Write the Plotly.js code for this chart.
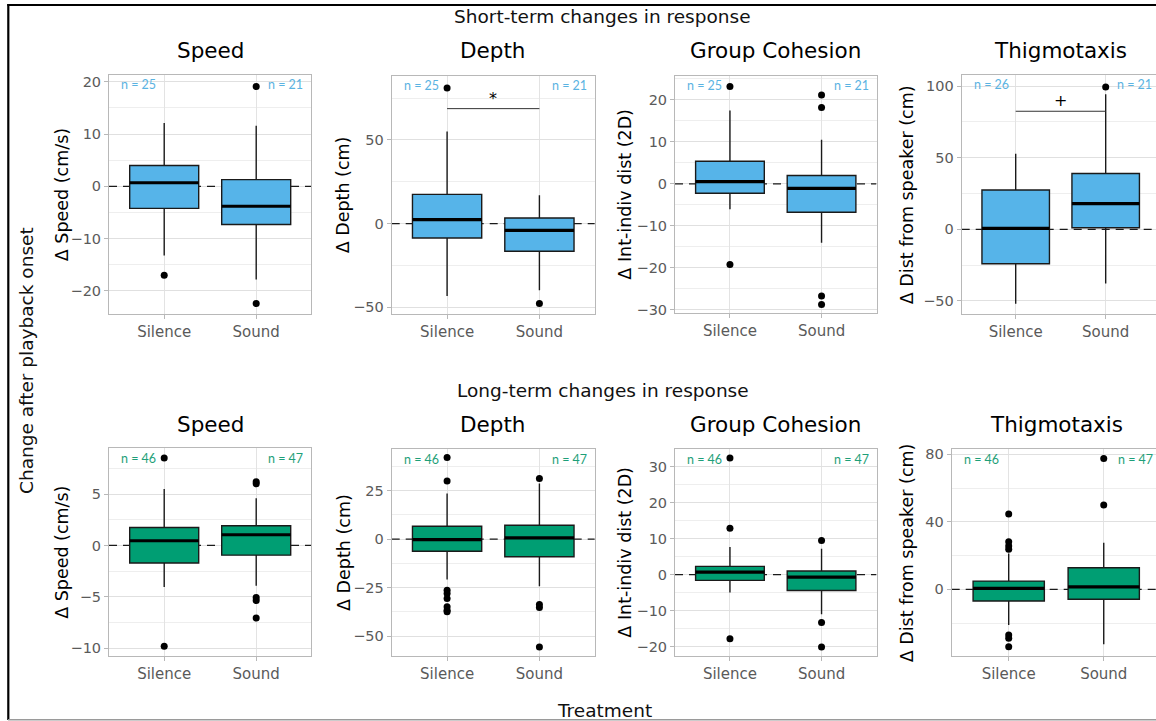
<!DOCTYPE html>
<html><head><meta charset="utf-8">
<script src="https://cdn.plot.ly/plotly-3.0.1.min.js"></script>
<style>html,body{margin:0;padding:0;background:#fff}#chart{width:1156px;height:721px}</style>
</head><body><div id="chart"></div>
<script>
// ---------- DATA ----------
const categories = ["Silence", "Sound"];
const panelTitles = ["Speed", "Depth", "Group Cohesion", "Thigmotaxis"];
const yTitles = ["Δ Speed (cm/s)", "Δ Depth (cm)", "Δ Int-indiv dist (2D)", "Δ Dist from speaker (cm)"];
const rowTitles = ["Short-term changes in response", "Long-term changes in response"];
const xTitle = "Treatment";
const yOverall = "Change after playback onset";

// Short-term: [Silence, Sound] per panel
const shortQ1     = [[-4.2, -7.3], [-8.6, -16.5], [-2.2, -6.75], [-24.0, 1.1]];
const shortMedian = [[0.7, -3.8], [2.4, -4.0], [0.55, -1.05], [0.7, 17.9]];
const shortQ3     = [[4.0, 1.3], [17.5, 3.4], [5.4, 2.0], [27.4, 39.0]];
const shortLower  = [[-13.2, -17.8], [-43.2, -39.8], [-6.0, -14.0], [-51.9, -37.9]];
const shortUpper  = [[12.1, 11.6], [55.0, 16.9], [17.5, 10.5], [52.7, 94.3]];
const shortOutSilence = [[-17.0], [81.0], [23.2, -19.2], []];
const shortOutSound   = [[19.1, -22.4], [-47.8], [21.2, 18.2, -26.7, -28.7], [99.3]];
const shortN = [[25, 21], [25, 21], [25, 21], [26, 21]];
const shortSig = [null, {label: "*", y: 68.7}, null, {label: "+", y: 82.4}];

// Long-term
const longQ1     = [[-1.71, -0.94], [-6.2, -9.1], [-1.6, -4.4], [-6.9, -5.9]];
const longMedian = [[0.46, 1.04], [-0.2, 0.7], [0.7, -0.67], [0.6, 1.5]];
const longQ3     = [[1.75, 1.92], [6.7, 7.2], [2.3, 1.0], [4.9, 12.8]];
const longLower  = [[-4.05, -3.92], [-20.8, -24.3], [-5.0, -11.0], [-21.2, -32.6]];
const longUpper  = [[5.5, 4.6], [23.6, 28.7], [7.7, 7.2], [21.3, 27.6]];
const longOutSilence = [[8.5, -9.8], [42.2, 30.0, -26.3, -28.0, -30.6, -34.9, -36.7, -37.5], [32.4, 12.9, -17.8], [44.6, 28.2, 25.7, 23.7, -27.1, -29.0, -34.0]];
const longOutSound   = [[6.2, 6.0, -5.06, -5.35, -7.06], [31.3, -33.7, -35.3, -55.6], [9.5, -13.3, -20.1], [77.6, 50.0]];
const longN = [[46, 47], [46, 47], [46, 47], [46, 47]];
const longSig = [null, null, null, null];

// ---------- LAYOUT GEOMETRY (pixels) ----------
const W = 1156, H = 721;
const geom = [
  {x0:109,   x1:311.4, y0:75,    y1:314,   yr:[-24.4, 21.3],  dt:10, mn:5,    ytx:61.7,  xr:[-0.6,1.6]},
  {x0:391.7, x1:594.8, y0:76,    y1:314,   yr:[-54.0, 88.2],  dt:50, mn:25,   ytx:343.3, xr:[-0.6,1.6]},
  {x0:675,   x1:876.5, y0:76,    y1:313.3, yr:[-30.8, 25.7],  dt:10, mn:5,    ytx:625,   xr:[-0.6,1.6]},
  {x0:961.7, x1:1156,  y0:75,    y1:314,   yr:[-59.1, 107.7], dt:50, mn:25,   ytx:906.7, xr:[-0.6,1.559], full:1159.7},
  {x0:109,   x1:311.4, y0:448.3, y1:656,   yr:[-10.75, 9.45], dt:5,  mn:2.5,  ytx:61.7,  xr:[-0.6,1.6]},
  {x0:391.7, x1:594.8, y0:449.3, y1:656,   yr:[-60.3, 46.4],  dt:25, mn:12.5, ytx:343.3, xr:[-0.6,1.6]},
  {x0:675,   x1:876.5, y0:449.3, y1:656,   yr:[-22.6, 34.8],  dt:10, mn:5,    ytx:625,   xr:[-0.6,1.6]},
  {x0:951.7, x1:1156,  y0:449.3, y1:656,   yr:[-39.5, 83.0],  dt:40, mn:20,   ytx:906.7, xr:[-0.6,1.55], full:1160.7}
];
const rowTitleY = [17, 390];
const panelTitleY = [51, 425];

const rows = [
  {q1:shortQ1, med:shortMedian, q3:shortQ3, lo:shortLower, hi:shortUpper, oS:shortOutSilence, oD:shortOutSound, n:shortN, sig:shortSig, fill:"#56B4E9", ncol:"#5AB3E2"},
  {q1:longQ1,  med:longMedian,  q3:longQ3,  lo:longLower,  hi:longUpper,  oS:longOutSilence,  oD:longOutSound,  n:longN,  sig:longSig,  fill:"#009E73", ncol:"#1E9F79"}
];

const FONT = "DejaVu Sans, Liberation Sans, Arial, sans-serif";
const px = v => v / W;
const py = v => 1 - v / H;

const traces = [];
const layout = {
  width: W, height: H,
  margin: {l:0, r:0, t:0, b:0},
  paper_bgcolor: "#fff", plot_bgcolor: "#fff",
  showlegend: false, hovermode: false,
  font: {family: FONT, color: "#000"},
  annotations: [], shapes: []
};

rows.forEach((row, r) => {
  for (let p = 0; p < 4; p++) {
    const k = r * 4 + p;
    const g = geom[k];
    const idx = k + 1;
    const suf = idx === 1 ? "" : String(idx);
    const xa = "x" + suf, ya = "y" + suf;
    const xKey = "xaxis" + suf, yKey = "yaxis" + suf;
    const spacing = ((g.full || g.x1) - g.x0) / 2.2;

    layout[xKey] = {
      domain: [px(g.x0), px(g.x1)], anchor: ya,
      type: "category", categoryorder: "array", categoryarray: categories,
      range: g.xr, fixedrange: true,
      showgrid: true, gridcolor: "#e3e3e3", gridwidth: 1,
      showline: true, mirror: true, linecolor: "#b8b8b8", linewidth: 1,
      ticks: "outside", ticklen: 4, tickcolor: "#b8b8b8",
      tickfont: {family: FONT, size: 15, color: "#5a5a5a"},
      zeroline: false
    };
    layout[yKey] = {
      domain: [py(g.y1), py(g.y0)], anchor: xa,
      range: g.yr, fixedrange: true,
      dtick: g.dt, tick0: 0,
      showgrid: true, gridcolor: "#e0e0e0", gridwidth: 1,
      minor: {dtick: g.mn, tick0: 0, showgrid: true, gridcolor: "#eeeeee", gridwidth: 1, ticks: ""},
      showline: true, mirror: true, linecolor: "#b8b8b8", linewidth: 1,
      ticks: "outside", ticklen: 4, tickcolor: "#b8b8b8",
      tickfont: {family: FONT, size: 14.5, color: "#5a5a5a"},
      zeroline: false
    };

    // zero dashed line: between gridlines and traces
    layout.shapes.push({
      type: "line", xref: xa, x0: g.xr[0], x1: g.xr[1], yref: ya, y0: 0, y1: 0,
      line: {color: "#1a1a1a", width: 1.3, dash: "8px,6px"}, layer: "between"
    });

    // box
    traces.push({
      type: "box", xaxis: xa, yaxis: ya,
      x: categories,
      q1: row.q1[p], median: row.med[p], q3: row.q3[p],
      lowerfence: row.lo[p], upperfence: row.hi[p],
      boxpoints: false, width: 0.75, whiskerwidth: 0,
      fillcolor: row.fill, line: {color: "#1a1a1a", width: 1.4},
      hoverinfo: "skip"
    });
    // thick median (line-ew marker spans 1.4*size px)
    traces.push({
      type: "scatter", mode: "markers", xaxis: xa, yaxis: ya,
      x: categories, y: row.med[p],
      marker: {symbol: "line-ew", size: 0.75 * spacing / 1.4, line: {color: "#000", width: 3.2}},
      hoverinfo: "skip", cliponaxis: false
    });
    // outliers
    const ox = [], oy = [];
    row.oS[p].forEach(v => { ox.push(categories[0]); oy.push(v); });
    row.oD[p].forEach(v => { ox.push(categories[1]); oy.push(v); });
    traces.push({
      type: "scatter", mode: "markers", xaxis: xa, yaxis: ya,
      x: ox, y: oy,
      marker: {symbol: "circle", size: 7, color: "#000"},
      hoverinfo: "skip", cliponaxis: false
    });
    // significance bracket
    const s = row.sig[p];
    if (s) {
      traces.push({
        type: "scatter", mode: "lines", xaxis: xa, yaxis: ya,
        x: categories, y: [s.y, s.y],
        line: {color: "#333", width: 1}, hoverinfo: "skip"
      });
      layout.annotations.push({
        xref: xa, yref: ya, x: 0.5, y: s.y, yanchor: "bottom", xanchor: "center",
        text: s.label, showarrow: false, font: {family: FONT, size: 16, color: "#000"}, yshift: -1
      });
    }

    // n labels
    const fullRight = g.full || g.x1;
    layout.annotations.push({
      xref: "paper", yref: "paper", x: px(g.x0 + 10), y: py(g.y0 + 10),
      xanchor: "left", yanchor: "middle", showarrow: false,
      text: "n = " + row.n[p][0], font: {family: "Lato, Open Sans, sans-serif", size: 12.5, color: row.ncol}
    });
    layout.annotations.push({
      xref: "paper", yref: "paper", x: px(Math.min(fullRight - 6, 1155)), y: py(g.y0 + 10),
      xanchor: "right", yanchor: "middle", showarrow: false,
      text: "n = " + row.n[p][1], font: {family: "Lato, Open Sans, sans-serif", size: 12.5, color: row.ncol}
    });

    // panel title
    layout.annotations.push({
      xref: "paper", yref: "paper", x: px((g.x0 + fullRight) / 2), y: py(panelTitleY[r]),
      xanchor: "center", yanchor: "middle", showarrow: false,
      text: panelTitles[p], font: {family: FONT, size: 21.5, color: "#000"}
    });
    // y-axis title
    layout.annotations.push({
      xref: "paper", yref: "paper", x: px(g.ytx), y: py((g.y0 + g.y1) / 2),
      xanchor: "center", yanchor: "middle", showarrow: false, textangle: -90,
      text: yTitles[p], font: {family: FONT, size: 17.5, color: "#000"}
    });
  }
  // row title
  layout.annotations.push({
    xref: "paper", yref: "paper", x: px(602.5), y: py(rowTitleY[r]),
    xanchor: "center", yanchor: "middle", showarrow: false,
    text: rowTitles[r], font: {family: FONT, size: 18.5, color: "#111"}
  });
});

// overall axis titles
layout.annotations.push({
  xref: "paper", yref: "paper", x: px(604), y: py(710),
  xanchor: "center", yanchor: "middle", showarrow: false,
  text: xTitle, font: {family: FONT, size: 18.5, color: "#111"}
});
layout.annotations.push({
  xref: "paper", yref: "paper", x: px(26), y: py(361),
  xanchor: "center", yanchor: "middle", showarrow: false, textangle: -90,
  text: yOverall, font: {family: FONT, size: 18.5, color: "#111"}
});

// figure frame
layout.shapes.push({type:"line", xref:"paper", yref:"paper", x0:px(7.3), x1:1, y0:py(5), y1:py(5), line:{color:"#000", width:2.2}, layer:"above"});
layout.shapes.push({type:"line", xref:"paper", yref:"paper", x0:px(8.3), x1:px(8.3), y0:py(4), y1:py(720), line:{color:"#000", width:2.2}, layer:"above"});
layout.shapes.push({type:"line", xref:"paper", yref:"paper", x0:px(8), x1:1, y0:py(719.8), y1:py(719.8), line:{color:"#9a9a9a", width:1.5}, layer:"above"});

Plotly.newPlot("chart", traces, layout, {displayModeBar: false, staticPlot: true});
</script>
</body></html>
